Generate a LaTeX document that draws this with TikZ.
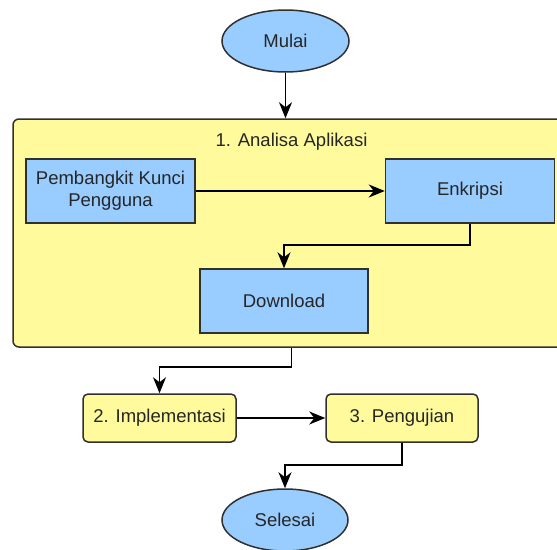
\documentclass[tikz,border=0pt]{standalone}
\usepackage{fontspec}
\setmainfont{Liberation Sans}
\usepackage{tikz}
\usetikzlibrary{shapes,arrows.meta,positioning,calc}

\definecolor{birumuda}{HTML}{99CCFF}
\definecolor{kuningmuda}{HTML}{FFFB9C}
\definecolor{garis}{HTML}{303030}

\begin{document}
\begin{tikzpicture}[
    x=1pt, y=-1pt,
    every node/.style={font=\fontsize{18.5}{22}\selectfont, text=black!85},
    terminal/.style={ellipse, draw=garis, line width=1.5pt, fill=birumuda,
        minimum width=127pt, minimum height=62pt, inner sep=0pt},
    proses/.style={rectangle, draw=garis, line width=1.5pt, fill=birumuda,
        minimum width=169pt, minimum height=64pt, align=center, inner sep=0pt},
    tahap/.style={rectangle, rounded corners=5pt, draw=garis, line width=1.5pt,
        fill=kuningmuda, minimum width=153pt, minimum height=48pt, inner sep=0pt},
    panah/.style={draw=black, line width=1.5pt, -{Stealth[length=16pt,width=13pt,inset=5pt]}}
]
\useasboundingbox (0,0) rectangle (557,549);

% kelompok analisa
\node[rectangle, rounded corners=6pt, draw=garis, line width=1.5pt, fill=kuningmuda,
      minimum width=557pt, minimum height=228pt, inner sep=0pt] (analisa) at (291.5,233) {};
\node (judul) at (291.5,142) {1. Analisa Aplikasi};

\node[terminal] (mulai) at (285.5,41) {Mulai};
\node[proses] (kunci) at (110.5,191) {Pembangkit Kunci\\Pengguna};
\node[proses] (enkripsi) at (470,191) {Enkripsi};
\node[proses, minimum width=168pt] (download) at (284,301) {Download};
\node[tahap] (implementasi) at (159.5,418) {2. Implementasi};
\node[tahap, minimum width=152pt] (pengujian) at (402,418) {3. Pengujian};
\node[terminal, minimum width=126pt] (selesai) at (285,520) {Selesai};

% alur
\draw[panah] (mulai.south) -- (mulai.south |- analisa.north);
\draw[panah] (kunci.east) -- (enkripsi.west);
\draw[panah] (enkripsi.south) -- ++(0,21) -| (download.north);
\draw[panah] (analisa.south) -- ++(0,19) -| (implementasi.north);
\draw[panah] (implementasi.east) -- (pengujian.west);
\draw[panah] (pengujian.south) -- ++(0,22) -| (selesai.north);
\end{tikzpicture}
\end{document}
